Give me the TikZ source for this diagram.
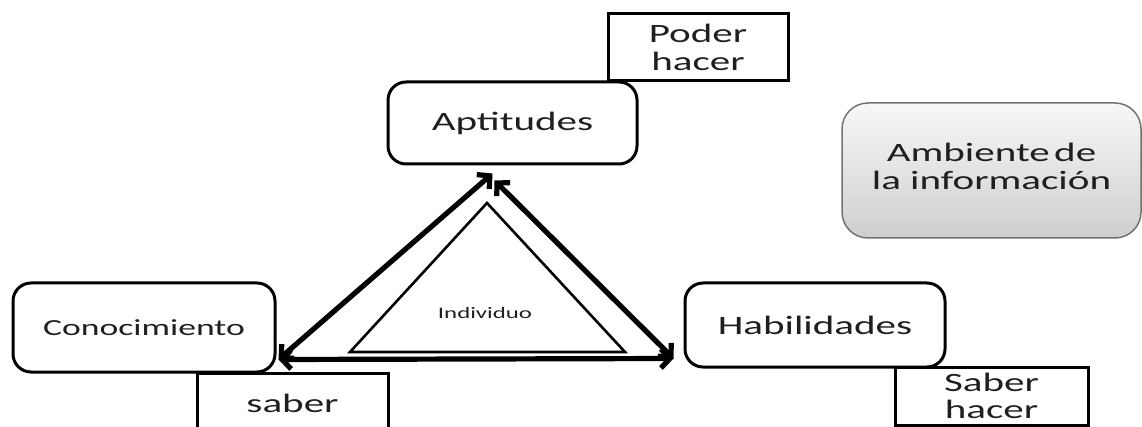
\documentclass[tikz,border=0pt]{standalone}
\usepackage{fontspec}
\setmainfont{Carlito}[FakeStretch=1.55]
\usetikzlibrary{arrows.meta,calc}
\begin{document}
\begin{tikzpicture}[x=1pt,y=-1pt,
  txt/.style={text=black!88, align=center, inner sep=0pt, font=\fontsize{26.5}{28}\selectfont},
  sqbox/.style={txt, draw=black, line width=3pt, rectangle},
  rbox/.style={txt, draw=black, line width=3pt, rectangle, rounded corners=18pt},
  dbl/.style={line width=5.2pt, {Straight Barb[length=9pt,width=19pt]}-{Straight Barb[length=9pt,width=19pt]}}]
\clip (0,0) rectangle (1142,427);
\useasboundingbox (0,0) rectangle (1142,427);
% boxes
\node[sqbox, minimum width=180pt, minimum height=67pt] (poder) at (698,47.5) {Poder\\hacer};
\node[rbox, minimum width=249pt, minimum height=82pt] (apt) at (512.5,123) {Aptitudes};
\node[txt, draw=black!55, line width=1.5pt, rounded corners=26pt, top color=gray!6, bottom color=gray!38,
      minimum width=299pt, minimum height=135pt] (amb) at (991.5,170.5) {};
\node[txt, anchor=center] (ambt) at (991.5,166) {Ambiente\,de\\la información};
\node[rbox, minimum width=262pt, minimum height=89pt, font=\fontsize{23}{25}\selectfont] (con) at (144,327.5) {Conocimiento};
\node[sqbox, minimum width=191pt, minimum height=72pt] (saber) at (292.5,409) {};
\node[txt] (sabert) at (292.5,403) {saber};
\node[rbox, minimum width=260pt, minimum height=84pt] (hab) at (815,325) {Habilidades};
\node[sqbox, minimum width=193pt, minimum height=58pt, font=\fontsize{26.5}{27}\selectfont] (sh) at (991.5,396) {Saber\\hacer};
% triangle
\draw[line width=2.6pt, line join=miter] (487,203) -- (350,352) -- (625,352) -- cycle;
\node[txt, font=\fontsize{16}{18}\selectfont] (ind) at (485,313) {Individuo};
% arrow end points
\coordinate (conTip) at ($(con.south east)+(2,-14)$);
\coordinate (aptTipL) at ($(apt.south)+(-20,8)$);
\coordinate (aptTipR) at ($(apt.south)+(-18,15)$);
\coordinate (habTip) at ($(hab.south west)+(-10,-10)$);
\draw[dbl] (conTip) -- (aptTipL);
\draw[dbl] (aptTipR) -- (habTip);
\draw[dbl] (conTip) -- (habTip);
\end{tikzpicture}
\end{document}
